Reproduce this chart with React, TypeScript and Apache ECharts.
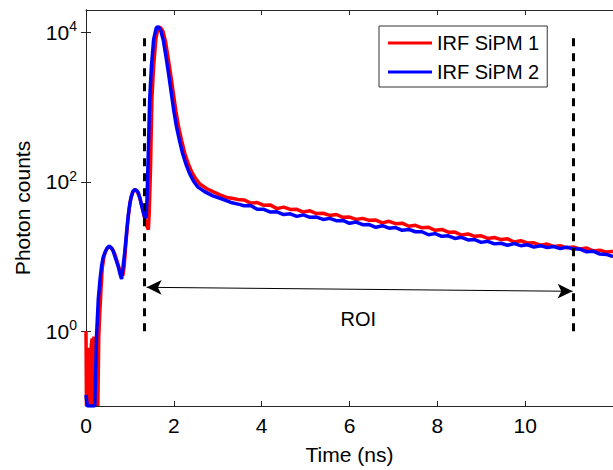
import React, { useEffect, useRef } from "react";
import * as echarts from "echarts";

// IRF SiPM 1 (red)
const sipm1Time = [
  0.0, 0.01, 0.03, 0.05, 0.08, 0.1, 0.12, 0.14, 0.16, 0.18, 0.2, 0.22, 0.25, 0.27, 0.29,
  0.31, 0.34, 0.37, 0.41, 0.45, 0.5, 0.55, 0.6, 0.65, 0.7, 0.75, 0.8, 0.84, 0.87, 0.9,
  0.94, 0.98, 1.02, 1.07, 1.12, 1.17, 1.22, 1.28, 1.33, 1.38, 1.42, 1.44, 1.47, 1.5,
  1.54, 1.59, 1.64, 1.69, 1.75, 1.81, 1.87, 1.93, 1.99, 2.05, 2.11, 2.18, 2.25, 2.33,
  2.41, 2.5, 2.6, 2.75, 2.89, 3.05, 3.2, 3.35, 3.5,
  3.6, 3.75, 3.9, 4.05, 4.2, 4.35, 4.5, 4.65, 4.8, 4.95, 5.1, 5.25, 5.4, 5.55, 5.7, 5.85,
  6.0, 6.15, 6.3, 6.45, 6.6, 6.75, 6.9, 7.05, 7.2, 7.35, 7.5, 7.65, 7.8, 7.95, 8.1, 8.25,
  8.4, 8.55, 8.7, 8.85, 9.0, 9.15, 9.3, 9.45, 9.6, 9.75, 9.9, 10.05, 10.2, 10.35, 10.5,
  10.65, 10.8, 10.95, 11.1, 11.25, 11.4, 11.55, 11.7, 11.85, 12.0,
];
const sipm1Counts = [
  1.0, 0.1, 0.55, 0.1, 0.6, 0.1, 0.65, 0.8, 0.1, 0.85, 0.6, 0.1, 0.75, 0.1, 0.8,
  1.6, 3.5, 7.0, 10.0, 12.0, 13.2, 13.5, 12.6, 11.0, 8.9, 7.2, 6.0, 5.6, 7.5, 13.0,
  25, 42, 60, 74, 78, 74, 62, 46, 34, 26, 23, 40, 160, 1260,
  3550, 8100, 11500, 11750, 10500, 7600, 4600, 2700, 1510, 870, 540, 355, 240, 174,
  135, 110, 93, 81, 74, 67, 62, 60, 57.5,
  57.3, 52.1, 52.8, 48.5, 48.9, 43.9, 46.0, 42.8, 43.0, 39.5, 41.0, 37.7, 38.0, 35.6, 36.6, 33.6,
  33.8, 31.4, 32.5, 30.6, 30.8, 28.3, 29.7, 27.6, 28.0, 25.5, 26.2, 24.3, 24.7, 22.5, 23.1, 21.2,
  21.3, 19.4, 20.1, 18.7, 19.0, 17.5, 18.0, 16.9, 17.3, 15.7, 16.3, 15.2, 15.3, 14.2, 14.7,
  13.7, 14.0, 13.1, 13.5, 12.6, 13.0, 11.9, 12.2, 11.5, 11.7,
];

// IRF SiPM 2 (blue)
const sipm2Time = [
  0.0, 0.03, 0.2, 0.24, 0.28, 0.32, 0.355, 0.39, 0.43, 0.48, 0.53, 0.58, 0.62, 0.67, 0.73,
  0.77, 0.81, 0.84, 0.88, 0.92, 0.96, 1.0, 1.035, 1.07, 1.11, 1.15, 1.19, 1.23, 1.26, 1.3,
  1.34, 1.37, 1.39, 1.41, 1.45, 1.49, 1.54, 1.6, 1.64, 1.7, 1.76, 1.82, 1.88, 1.94, 2.0,
  2.06, 2.13, 2.2, 2.28, 2.36, 2.45, 2.55, 2.7, 2.89, 3.1, 3.3, 3.49,
  3.6, 3.75, 3.9, 4.05, 4.2, 4.35, 4.5, 4.65, 4.8, 4.95, 5.1, 5.25, 5.4, 5.55, 5.7, 5.85,
  6.0, 6.15, 6.3, 6.45, 6.6, 6.75, 6.9, 7.05, 7.2, 7.35, 7.5, 7.65, 7.8, 7.95, 8.1, 8.25,
  8.4, 8.55, 8.7, 8.85, 9.0, 9.15, 9.3, 9.45, 9.6, 9.75, 9.9, 10.05, 10.2, 10.35, 10.5,
  10.65, 10.8, 10.95, 11.1, 11.25, 11.4, 11.55, 11.7, 11.85, 12.0,
];
const sipm2Counts = [
  0.14, 0.1, 0.1, 0.87, 2.7, 5.0, 7.5, 9.8, 11.3, 13.0, 13.8, 13.0, 11.8, 9.6, 7.5,
  6.0, 5.0, 7.0, 11.2, 20, 35, 52, 65, 75, 79, 77, 72, 60, 50, 40,
  33, 34, 60, 162, 1260, 3550, 8100, 11500, 12000, 10700, 7900, 4800, 2800, 1580, 890,
  550, 355, 240, 170, 129, 102, 85, 74, 65, 59, 53, 50,
  48.0, 48.2, 42.9, 43.0, 39.5, 39.7, 36.5, 37.4, 34.5, 36.2, 33.6, 33.8, 31.4, 32.5, 30.3, 30.5,
  27.9, 29.0, 26.7, 26.8, 24.7, 25.9, 24.0, 24.5, 22.5, 23.1, 21.5, 21.5, 19.6, 20.3, 18.7, 19.0,
  17.5, 18.1, 16.7, 16.9, 15.5, 16.0, 14.8, 15.1, 14.2, 14.9, 14.0, 14.4, 13.4, 14.0, 13.2,
  13.6, 12.8, 13.4, 12.6, 12.6, 11.6, 11.8, 10.8, 10.7, 10.0,
];

const xTicks = [0, 2, 4, 6, 8, 10];
const yTicks = [1, 100, 10000];
const yExponent: Record<number, string> = { 1: "0", 100: "2", 10000: "4" };
const roiBounds = [1.32, 11.1];

const AXIS_COLOR = "#262626";
const FONT = "Liberation Sans, Arial, Helvetica, sans-serif";

export default function App() {
  const ref = useRef<HTMLDivElement>(null);
  useEffect(() => {
    if (!ref.current) return;
    const chart = echarts.init(ref.current, null, { renderer: "svg" });
    const zip = (t: number[], c: number[]) => t.map((x, i) => [x, c[i]]);
    const axisLine = { show: true, lineStyle: { color: AXIS_COLOR, width: 1 } };
    const tickStyle = { show: true, inside: true, length: 5, lineStyle: { color: AXIS_COLOR, width: 1 } };
    const option: any = {
      animation: false,
      backgroundColor: "#ffffff",
      textStyle: { fontFamily: FONT },
      grid: { left: 86, top: 10, width: 529, height: 396, containLabel: false },
      legend: {
        data: ["IRF SiPM 1", "IRF SiPM 2"],
        orient: "vertical",
        left: 379,
        top: 26,
        padding: [7, 8, 5, 9],
        itemGap: 9,
        itemWidth: 44,
        itemHeight: 3,
        icon: "rect",
        borderColor: "#333",
        borderWidth: 1,
        borderRadius: 0,
        backgroundColor: "#fff",
        textStyle: { fontSize: 20, color: "#000", fontFamily: FONT, lineHeight: 20 },
      },
      xAxis: [
        {
          type: "value",
          min: 0,
          max: 12,
          interval: 2,
          position: "bottom",
          name: "Time (ns)",
          nameLocation: "middle",
          nameGap: 38,
          nameTextStyle: { fontSize: 21, color: "#000", fontFamily: FONT },
          axisLine,
          axisTick: tickStyle,
          axisLabel: {
            customValues: xTicks,
            fontSize: 21,
            color: "#000",
            margin: 9,
            fontFamily: FONT,
          },
          splitLine: { show: false },
        },
        {
          type: "value",
          min: 0,
          max: 12,
          interval: 2,
          position: "top",
          axisLine,
          axisTick: tickStyle,
          axisLabel: { show: false },
          splitLine: { show: false },
        },
      ],
      yAxis: [
        {
          type: "log",
          logBase: 10,
          min: 0.1,
          max: 20000,
          position: "left",
          name: "Photon counts",
          nameLocation: "middle",
          nameGap: 53,
          nameTextStyle: { fontSize: 21, color: "#000", fontFamily: FONT },
          axisLine,
          axisTick: { ...tickStyle, customValues: yTicks },
          axisLabel: {
            customValues: yTicks,
            margin: 9,
            formatter: (v: number) => {
              const e = yExponent[Math.round(v)];
              return e === undefined ? "" : `{b|10}{s|${e}}`;
            },
            rich: {
              b: { fontSize: 21, color: "#000", fontFamily: FONT, lineHeight: 26 },
              s: { fontSize: 14, color: "#000", fontFamily: FONT, lineHeight: 14, verticalAlign: "top" },
            },
          },
          splitLine: { show: false },
        },
        {
          type: "log",
          logBase: 10,
          min: 0.1,
          max: 20000,
          position: "right",
          axisLine,
          axisTick: { ...tickStyle, customValues: yTicks },
          axisLabel: { show: false },
          splitLine: { show: false },
        },
      ],
      series: [
        {
          name: "IRF SiPM 1",
          type: "line",
          data: zip(sipm1Time, sipm1Counts),
          showSymbol: false,
          symbol: "none",
          lineStyle: { color: "#ff0000", width: 3.5 },
          itemStyle: { color: "#ff0000" },
          clip: true,
          z: 2,
        },
        {
          name: "IRF SiPM 2",
          type: "line",
          data: zip(sipm2Time, sipm2Counts),
          showSymbol: false,
          symbol: "none",
          lineStyle: { color: "#0000ff", width: 3.5 },
          itemStyle: { color: "#0000ff" },
          clip: true,
          z: 3,
        },
        {
          name: "annotations",
          type: "line",
          data: [],
          z: 4,
          silent: true,
          markLine: {
            silent: true,
            animation: false,
            label: { show: false },
            symbol: ["none", "none"],
            data: [
              [
                { coord: [roiBounds[0], 1], lineStyle: { color: "#000", width: 3, type: [8, 7] } },
                { coord: [roiBounds[0], 10000] },
              ],
              [
                { coord: [roiBounds[1], 1], lineStyle: { color: "#000", width: 3, type: [8, 7] } },
                { coord: [roiBounds[1], 10000] },
              ],
              [
                {
                  coord: [1.38, 3.88],
                  symbol: "arrow",
                  symbolSize: [11, 15],
                  lineStyle: { color: "#000", width: 1, type: "solid" },
                },
                { coord: [11.08, 3.43], symbol: "arrow", symbolSize: [11, 15] },
              ],
            ],
          },
          markPoint: {
            silent: true,
            data: [
              {
                coord: [6.2, 1.45],
                symbol: "circle",
                symbolSize: 0,
                label: { show: true, formatter: "ROI", position: "inside", fontSize: 20, color: "#000", fontFamily: FONT },
              },
            ],
          },
        },
      ],
    };
    chart.setOption(option);
    return () => chart.dispose();
  }, []);
  return (
    <div
      ref={ref}
      style={{ position: "absolute", left: 0, top: 0, width: 613, height: 470, background: "#fff" }}
    />
  );
}
